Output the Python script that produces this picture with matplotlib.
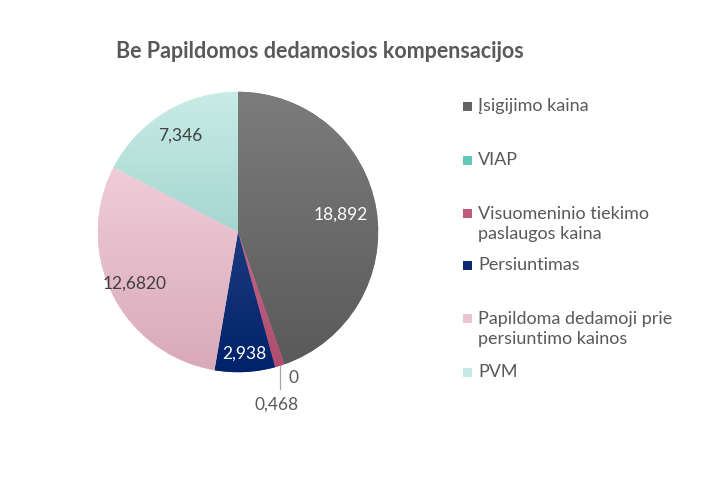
import numpy as np
import matplotlib
matplotlib.use("Agg")
import matplotlib.pyplot as plt
from matplotlib.colors import LinearSegmentedColormap
from matplotlib.patches import Rectangle

title = "Be Papildomos dedamosios kompensacijos"
categories = ["Įsigijimo kaina", "VIAP", "Visuomeninio tiekimo\npaslaugos kaina",
              "Persiuntimas", "Papildoma dedamoji prie\npersiuntimo kainos", "PVM"]
values = [18.892, 0.0, 0.468, 2.938, 12.682, 7.346]
value_labels = ["18,892", "0", "0,468", "2,938", "12,6820", "7,346"]
top_colors = ["#7c7c7c", "#72d2c2", "#c9678a", "#1d3a7e", "#f0ccd8", "#c8ece6"]
bottom_colors = ["#5a5a5a", "#4fbfae", "#b04c6e", "#00226a", "#d9aab9", "#a6d6d0"]
legend_colors = ["#646464", "#62c9b8", "#c05a7c", "#0b2a70", "#ebc6d2", "#c4eae3"]

FONT = "Lato"
TXT = "#595959"

fig = plt.figure(figsize=(7.13, 4.88), dpi=100)
W, H = 713, 488
cx, cy, R = 238, 232, 143
ax = fig.add_axes([(cx - R) / W, (H - cy - R) / H, 2 * R / W, 2 * R / H])
ax.set_xlim(-1.02, 1.02)
ax.set_ylim(-1.02, 1.02)
ax.set_aspect("equal")
ax.axis("off")

wedges, _ = ax.pie(values, startangle=90, counterclock=False, radius=1.0,
                   colors=top_colors, wedgeprops=dict(linewidth=0))

# gradient fill per wedge
for w, c0, c1 in zip(wedges, top_colors, bottom_colors):
    if w.theta2 - w.theta1 <= 0:
        continue
    path = w.get_path()
    verts = path.vertices
    ymin, ymax = verts[:, 1].min(), verts[:, 1].max()
    xmin, xmax = verts[:, 0].min(), verts[:, 0].max()
    cmap = LinearSegmentedColormap.from_list("g", [c1, c0])
    grad = np.linspace(0, 1, 256).reshape(-1, 1)
    im = ax.imshow(grad, cmap=cmap, origin="lower", aspect="auto",
                   extent=[xmin, xmax, ymin, ymax], zorder=2)
    im.set_clip_path(w)
ax.set_xlim(-1.02, 1.02)
ax.set_ylim(-1.02, 1.02)

# data labels
total = sum(values)
angles = []
a = 90.0
for v in values:
    sweep = 360.0 * v / total
    angles.append(a - sweep / 2)
    a -= sweep
label_r = [0.74, None, None, 0.87, 0.82, 0.80]
label_col = ["white", None, None, "white", "#404040", "#404040"]
for i in [0, 3, 4, 5]:
    th = np.deg2rad(angles[i])
    ax.text(label_r[i] * np.cos(th), label_r[i] * np.sin(th), value_labels[i],
            ha="center", va="center", fontsize=12.5, color=label_col[i],
            family=FONT, zorder=5)

# leader line for small slices
th = np.deg2rad(angles[2])
x0 = np.cos(th)
ax.plot([x0, x0], [np.sin(th), -1.12], color="#a6a6a6", lw=0.9,
        clip_on=False, zorder=4)
ax.text(x0 + 0.1, -1.04, value_labels[1], ha="center", va="center",
        fontsize=12.5, color=TXT, family=FONT)
ax.text(x0 - 0.02, -1.23, value_labels[2], ha="center", va="center",
        fontsize=12.5, color=TXT, family=FONT)

# title
fig.text(320 / W, 1 - 52 / H, title, ha="center", va="center",
         fontsize=15.5, fontweight="bold", color=TXT, family=FONT)

# legend
rows_y = [106, 160, 224, 265, 329, 372]
for lab, col, yy in zip(categories, legend_colors, rows_y):
    n = lab.count("\n")
    my = yy - n * 11
    fig.patches.append(Rectangle((463 / W, 1 - (my + 4.5) / H), 9 / W, 9 / H,
                                 transform=fig.transFigure, facecolor=col,
                                 edgecolor="none"))
    fig.text(478 / W, 1 - yy / H, lab, ha="left", va="center", fontsize=13,
             color=TXT, family=FONT, linespacing=1.38)

fig.savefig("out.png", dpi=100, facecolor="white")
